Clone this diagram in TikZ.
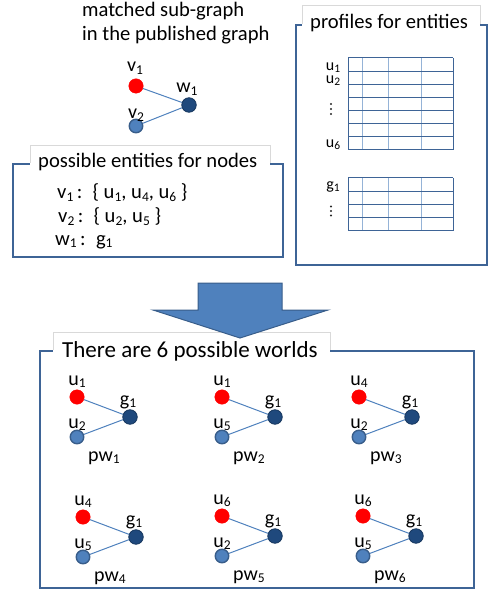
\documentclass[tikz,border=0pt]{standalone}
\usepackage{fontspec}
\setmainfont{Carlito}
\usetikzlibrary{calc}
\definecolor{framec}{HTML}{3E6496}
\definecolor{tagc}{HTML}{D9D9D9}
\definecolor{navyc}{HTML}{1F497D}
\definecolor{navyd}{HTML}{17375E}
\definecolor{bluec}{HTML}{4F81BD}
\definecolor{blued}{HTML}{385D8A}
\definecolor{lightc}{HTML}{95B3D7}
\newcommand\sbs[1]{\raisebox{-0.3ex}{\fontsize{13.5}{14}\selectfont #1}}
\newcommand\ssbs[1]{\raisebox{-0.25ex}{\fontsize{11.5}{12}\selectfont #1}}
\newcommand\mkworld[7]{%
  \node[redv] (#1r) at (#2,#3) {};
  \node[navyv] (#1g) at ({#2+53},{#3+20}) {};
  \node[bluev] (#1b) at (#2,{#3+40}) {};
  \draw[edgeline] (#1r) -- (#1g) (#1b) -- (#1g);
  \node[lbl] (#1rl) at ($(#1r)+(0,-12)$) {u\sbs{#4}};
  \node[lbl] (#1gl) at ($(#1g)+(-2,-12)$) {g\sbs{1}};
  \node[lbl] (#1bl) at ($(#1b)+(0,-9)$) {u\sbs{#5}};
  \node[lbl] (#1pw) at ({#2+27},{#3+64}) {pw\sbs{#6}};
}
\begin{document}
\begin{tikzpicture}[x=1pt,y=-1pt,
  redv/.style={circle, fill=red, draw=red, minimum size=14.5pt, inner sep=0pt},
  navyv/.style={circle, fill=navyc, draw=navyd, line width=0.8pt, minimum size=14.5pt, inner sep=0pt},
  bluev/.style={circle, fill=bluec, draw=blued, line width=1.4pt, minimum size=13.5pt, inner sep=0pt},
  edgeline/.style={draw=bluec, line width=1pt},
  txt/.style={anchor=base west, inner sep=0pt, font=\fontsize{20.6}{24}\selectfont},
  lbl/.style={anchor=base, inner sep=0pt, font=\fontsize{20}{24}\selectfont},
  small/.style={anchor=base, inner sep=0pt, font=\fontsize{16}{19}\selectfont},
  frame/.style={draw=framec, line width=1.5pt},
  tagline/.style={draw=tagc, line width=0.7pt},
  darkgrid/.style={draw=framec, line width=1pt},
  lightgrid/.style={draw=lightc, line width=1pt}]
\useasboundingbox (0,0) rectangle (490,593);

% ---------- top-left: matched sub-graph ----------
\node[txt] (t1) at (82,17) {matched sub-graph};
\node[txt] (t2) at (82,41) {in the published graph};
\node[redv] (v1) at (136,86) {};
\node[navyv] (w1) at (189,105) {};
\node[bluev] (v2) at (136,126) {};
\draw[edgeline] (v1) -- (w1) (v2) -- (w1);
\node[lbl] (v1l) at (135,72) {v\sbs{1}};
\node[lbl] (w1l) at (187,93) {w\sbs{1}};
\node[lbl] (v2l) at (136,119) {v\sbs{2}};

% ---------- possible entities box ----------
\draw[frame] (13,164) rectangle (283,257);
\fill[white] (30,144) rectangle (270,172);
\draw[tagline] (30,163) -- (30,145) -- (270,145) -- (270,163);
\node[txt] (pe) at (38,168) {possible entities for nodes};
\node[txt] (e1) at (57,199) {v\sbs{1}\,:\enspace\{ u\sbs{1}, u\sbs{4}, u\sbs{6} \}};
\node[txt] (e2) at (58,223) {v\sbs{2}\,:\enspace\{ u\sbs{2}, u\sbs{5} \}};
\node[txt] (e3) at (55,245) {w\sbs{1}\,:\enspace g\sbs{1}};

% ---------- profiles box ----------
\draw[frame] (296,25) rectangle (487,265);
\fill[white] (302,4) rectangle (480,33);
\draw[tagline] (302,24) -- (302,5) -- (480,5) -- (480,24);
\node[txt] (pf) at (310,28.5) {profiles for entities};
% table 1
\foreach \xx in {362,388,421} \draw[lightgrid] (\xx,58) -- (\xx,150);
\foreach \i in {0,...,7} \draw[darkgrid] (348,{58+\i*92/7}) -- (453,{58+\i*92/7});
\draw[darkgrid] (348,58) -- (348,150) (453,58) -- (453,150);
% table 2
\foreach \xx in {362,388,421} \draw[lightgrid] (\xx,178) -- (\xx,231);
\foreach \i in {0,...,4} \draw[darkgrid] (348,{178+\i*53/4}) -- (453,{178+\i*53/4});
\draw[darkgrid] (348,178) -- (348,231) (453,178) -- (453,231);
\node[inner sep=0pt, align=center, font=\fontsize{16}{13.5}\selectfont] (ru12) at (333,74) {u\ssbs{1}\\u\ssbs{2}};
\node[small] (ru6) at (333,148) {u\ssbs{6}};
\node[small] (rg1) at (333,190) {g\ssbs{1}};
% vertical ellipses
\foreach \yy in {104,109,114} \fill[black!85] (331,\yy) circle (1.1);
\foreach \yy in {206.5,211,215.5} \fill[black!85] (331,\yy) circle (1.1);

% ---------- bottom box ----------
\draw[frame] (40,351) rectangle (474,588);
\fill[white] (53,331) rectangle (330,362);
\draw[tagline] (53,350) -- (53,332) -- (330,332) -- (330,350);
\node[txt, font=\fontsize{23}{27}\selectfont] (pwt) at (62,357) {There are 6 possible worlds};

% ---------- big arrow ----------
\filldraw[fill=bluec, draw=blued, line width=1pt]
  (198,283) -- (282,283) -- (282,310) -- (328,310) -- (240,338) -- (153,310) -- (198,310) -- cycle;

% ---------- worlds ----------
\mkworld{a}{77}{397}{1}{2}{1}{}
\mkworld{b}{222}{397}{1}{5}{2}{}
\mkworld{c}{359}{397}{4}{2}{3}{}
\mkworld{d}{83}{517}{4}{5}{4}{}
\mkworld{e}{222}{516}{6}{2}{5}{}
\mkworld{f}{363}{516}{6}{5}{6}{}
\end{tikzpicture}
\end{document}
